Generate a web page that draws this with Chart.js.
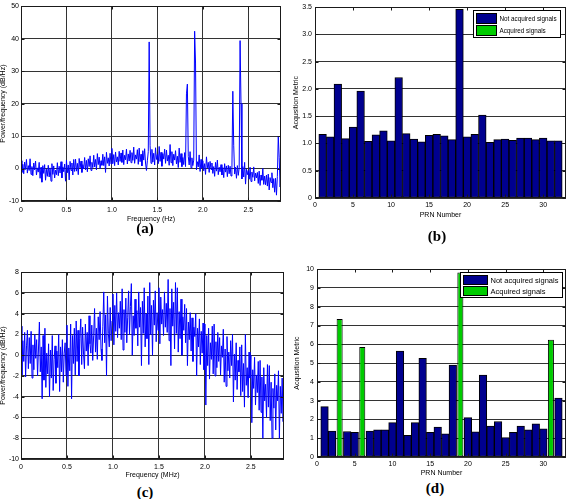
<!DOCTYPE html>
<html>
<head>
<meta charset="utf-8">
<script src="https://cdn.jsdelivr.net/npm/chart.js@4/dist/chart.umd.min.js"></script>
<style>
  html, body { margin: 0; padding: 0; background: #fff; }
  body { width: 567px; height: 499px; position: relative; overflow: hidden; }
  canvas { position: absolute; }
  .tag { position: absolute; font: bold 15px 'Liberation Serif', 'Times New Roman', serif; color: #000; transform: translate(-50%, -50%); }
</style>
</head>
<body>
<canvas id="chartA" width="284" height="225" style="left:0;top:0"></canvas>
<canvas id="chartB" width="277" height="222" style="left:290px;top:0"></canvas>
<canvas id="chartC" width="286" height="216" style="left:0;top:266px"></canvas>
<canvas id="chartD" width="277" height="217" style="left:290px;top:262px"></canvas>
<div class="tag" style="left:145px;top:228px">(a)</div>
<div class="tag" style="left:437px;top:236px">(b)</div>
<div class="tag" style="left:145px;top:492px">(c)</div>
<div class="tag" style="left:435px;top:488px">(d)</div>
<script>
// spectrum samples, one every 0.01 (Hz / MHz) from 0 to 2.86
const FREQ_STEP = 0.01;
const FREQ_MAX = 2.86;

const psdA = [
  2.4, -1.2, 1.3, -1.6, 2.0, -0.3, 2.8, -1.4, 0.9, -0.6,
  3.0, -1.8, 0.6, -2.2, 1.7, -0.4, 2.3, -2.0, 0.2, -1.1,
  1.9, -3.0, 0.4, -4.2, 0.9, -1.5, 1.2, -3.6, -0.2, -2.4,
  1.0, -2.6, 0.2, -3.9, 1.5, -1.8, 0.8, -2.9, -0.5, -1.9,
  1.8, -2.2, 0.7, -1.4, 2.1, -2.9, 0.5, -1.0, 1.4, -3.9,
  2.6, -1.3, 1.1, -3.5, 2.2, -0.6, 1.7, -2.0, 2.8, -0.9,
  2.9, -0.8, 1.6, -1.9, 3.1, 0.2, 2.3, -1.2, 1.2, -0.1,
  3.4, -0.4, 2.5, -1.0, 3.0, 0.6, 3.9, -0.6, 1.9, 0.3,
  4.1, 0.5, 2.8, -0.4, 4.6, 1.2, 3.5, 0.0, 2.4, 1.0,
  4.4, 0.9, 3.6, -1.2, 5.0, 1.6, 3.3, 0.8, 4.7, 1.4,
  6.2, 1.5, 4.3, 0.9, 5.1, 2.0, 3.6, 1.1, 5.3, 2.2,
  4.8, 1.9, 5.7, 1.2, 4.1, 2.7, 6.0, 1.4, 4.5, 2.3,
  5.6, 1.8, 4.9, 2.5, 6.6, 1.6, 4.2, 2.9, 5.8, 1.3,
  6.3, 2.1, 4.4, 0.8, 5.5, 2.6, 6.1, 1.7, -0.6, 2.4,
  5.2, 39.0, 7.0, 1.6, 5.9, 2.0, 4.7, 1.1, 6.4, 2.8,
  4.3, 1.5, 6.8, 2.2, 5.0, 0.7, 4.6, 2.9, 6.0, 1.6,
  5.7, 2.3, 4.1, 1.0, 7.4, 1.8, 5.2, 0.9, 4.4, 2.6,
  5.5, 1.4, 3.8, 0.3, 6.3, 1.9, 4.6, 0.6, 3.4, 1.2,
  4.9, 0.6, 23.0, 26.0, 3.7, 1.1, 5.2, 0.2, 3.3, 0.9,
  2.6, 42.3, 32.5, -0.4, 2.1, 0.5, 4.2, -0.9, 2.8, 0.1,
  2.4, -0.7, 1.5, -1.8, 3.6, 0.2, 1.9, -1.2, 2.2, -0.3,
  1.7, -1.5, 0.6, -2.4, 1.9, -0.8, 2.6, -1.9, 0.4, -1.0,
  1.2, -2.0, 0.3, -2.8, 1.5, -1.1, 0.8, -2.5, 1.0, -1.6,
  0.7, -2.3, 0.1, 23.8, 7.0, -1.7, 0.4, -3.0, 0.9, -2.1,
  0.2, 39.4, 20.0, -3.2, 0.6, -2.6, 1.9, -4.8, -0.2, -1.9,
  -0.6, -3.3, 0.4, -4.0, -1.1, -2.7, 0.5, -3.8, -1.4, -2.9,
  -1.2, -4.6, -0.8, -5.2, -2.0, -3.6, 0.0, -4.9, -2.3, -5.0,
  -2.0, -5.4, -1.7, -6.6, -2.8, -4.3, -1.3, -5.9, -3.1, -7.3,
  -3.0, -8.2, -2.4, 10.0, 3.5, -5.7, 1.8
];

const psdC = [
  2.8, -1.9, 1.4, -0.6, 2.2, -2.1, 0.9, 2.4, -1.3, 1.7,
  -0.8, 2.3, -2.2, 1.0, -1.4, 2.0, -0.3, 1.5, -2.0, 0.6,
  3.2, -1.6, 0.8, -4.2, 1.9, -2.4, 2.6, -3.1, 0.2, -1.8,
  1.1, -4.0, 0.5, -2.2, 1.9, -3.4, -0.4, 0.9, -2.7, 0.4,
  -1.2, 2.0, -3.5, 0.8, -1.6, 1.5, -2.6, 0.2, 1.2, -2.0,
  2.9, -3.0, 0.7, -1.5, 3.0, -4.2, 1.9, -0.8, 2.6, -1.9,
  3.3, -0.6, 2.4, -2.0, 1.6, 3.5, -0.9, 2.7, 0.1, -1.3,
  3.0, 0.4, 2.2, -1.0, 3.8, 1.1, 0.2, 2.9, -0.5, 1.9,
  4.5, 0.3, 2.6, -0.4, 3.7, 1.5, 4.2, 0.6, -0.5, 2.8,
  6.1, 1.2, 3.9, -2.0, 5.7, 2.1, 0.8, 4.6, 1.4, 3.3,
  5.9, 1.0, 4.8, 2.3, 6.0, 1.7, 4.1, 2.6, 5.2, 1.5,
  6.4, 0.5, 4.4, 2.2, 5.5, 1.2, 3.6, 6.2, 2.0, 4.7,
  6.9, 0.0, 3.8, 1.9, 5.4, 2.6, 4.3, 0.9, 6.1, 2.7,
  4.6, -1.0, 5.2, 2.1, 6.5, 0.8, 4.0, 1.6, 5.7, -0.9,
  7.0, 2.0, 4.8, 0.0, 5.3, 2.9, 6.2, 1.3, 4.1, 2.4,
  6.5, 1.1, 5.6, 3.0, 4.4, 1.9, 6.1, 2.7, 5.0, 2.2,
  7.3, 1.4, 4.5, -1.0, 6.4, 2.8, 5.1, 0.6, 7.0, 2.1,
  6.5, 0.3, 4.2, 1.6, 5.4, 0.0, 3.7, 2.4, 4.9, 1.2,
  4.5, -1.0, 3.2, 1.5, 4.1, 0.4, 3.6, -0.6, 2.7, 1.8,
  4.0, -2.0, 2.6, 0.8, 3.5, -0.9, 2.3, 0.2, 3.1, -1.4,
  3.0, -4.8, 1.9, -1.0, 2.6, -2.3, 1.2, -0.4, 2.8, -1.8,
  3.0, -2.0, 1.3, -1.2, 2.2, -0.6, 1.7, -1.9, 0.9, -0.2,
  2.5, -2.6, 0.6, -3.0, 1.8, -1.5, 0.3, -2.2, 1.4, -1.0,
  2.0, -4.5, 0.1, -2.4, 1.2, -3.3, -0.5, -1.6, 0.8, -3.9,
  1.0, -3.5, -0.8, -5.0, 2.0, -2.9, -1.2, -4.1, 0.3, -2.2,
  0.0, -6.5, -1.4, -3.2, -0.2, -4.8, -1.9, -3.6, -0.6, -5.3,
  -0.5, -5.5, -2.1, -8.0, -1.2, -4.4, -2.8, -6.0, -0.9, -5.0,
  -1.0, -6.3, -2.6, -8.0, -3.2, -5.1, -1.8, -7.2, -2.9, -4.4,
  -1.5, -8.0, -3.0, -5.6, -2.2, -6.4, 2.0
];

const prnNumbers = [1, 2, 3, 4, 5, 6, 7, 8, 9, 10, 11, 12, 13, 14, 15, 16,
  17, 18, 19, 20, 21, 22, 23, 24, 25, 26, 27, 28, 29, 30, 31, 32];

const metricB = [1.17, 1.12, 2.09, 1.09, 1.30, 1.96, 1.04, 1.16, 1.23, 1.05, 2.21, 1.18,
  1.08, 1.03, 1.15, 1.17, 1.14, 1.07, 3.46, 1.12, 1.17, 1.52, 1.02, 1.07,
  1.08, 1.06, 1.10, 1.10, 1.07, 1.10, 1.05, 1.05];
const acquiredPrnB = [];

const metricD = [2.68, 1.38, 7.35, 1.36, 1.32, 5.86, 1.38, 1.45, 1.45, 1.83, 5.64, 1.15,
  1.83, 5.26, 1.31, 1.59, 1.23, 4.89, 9.82, 2.10, 1.34, 4.36, 1.64, 1.89,
  1.04, 1.31, 1.64, 1.45, 1.76, 1.50, 6.24, 3.14];
const acquiredPrnD = [3, 6, 19, 31];

const NAVY = '#00008f';
const GREEN = '#00cc00';
const TRACE = '#0000ff';

Chart.defaults.font.family = "'Liberation Sans', Arial, sans-serif";
Chart.defaults.font.size = 7;
Chart.defaults.color = '#000';

const dotted = { color: '#333', borderDash: [1, 2], lineWidth: 1, drawTicks: false };

// matlab style box with inward tick marks
const matlabBox = {
  id: 'matlabBox',
  afterDraw(chart) {
    const { ctx, chartArea: a, scales } = chart;
    const L = Math.round(a.left) + 0.5, R = Math.round(a.right) - 0.5;
    const T = Math.round(a.top) + 0.5, B = Math.round(a.bottom) - 0.5;
    ctx.save();
    ctx.strokeStyle = '#1a1a1a';
    ctx.lineWidth = 1;
    ctx.beginPath();
    scales.x.ticks.forEach(t => {
      const px = Math.round(scales.x.getPixelForValue(t.value)) + 0.5;
      ctx.moveTo(px, B); ctx.lineTo(px, B - 3);
      ctx.moveTo(px, T); ctx.lineTo(px, T + 3);
    });
    scales.y.ticks.forEach(t => {
      const py = Math.round(scales.y.getPixelForValue(t.value)) + 0.5;
      ctx.moveTo(L, py); ctx.lineTo(L + 3, py);
      ctx.moveTo(R, py); ctx.lineTo(R - 3, py);
    });
    ctx.stroke();
    ctx.strokeRect(L, T, R - L, B - T);
    ctx.restore();
  }
};

const legendBox = {
  id: 'legendBox',
  afterDraw(chart, args, opts) {
    if (!opts.show) return;
    const { ctx, chartArea } = chart;
    const sets = chart.data.datasets;
    ctx.save();
    ctx.font = opts.fontSize + "px 'Liberation Sans', Arial, sans-serif";
    const textW = Math.max(...sets.map(d => ctx.measureText(d.label).width));
    const w = Math.round(3 + opts.swatchW + 3 + textW + 4);
    const h = Math.round(2 + sets.length * opts.rowH + 1);
    const x = Math.round(chartArea.right - opts.marginRight - w) + 0.5;
    const y = Math.round(chartArea.top + opts.marginTop) + 0.5;
    ctx.fillStyle = '#fff';
    ctx.fillRect(x, y, w, h);
    ctx.strokeStyle = '#000';
    ctx.lineWidth = 1;
    ctx.strokeRect(x, y, w, h);
    sets.forEach((d, i) => {
      const ry = y + 2 + i * opts.rowH;
      ctx.fillStyle = d.backgroundColor;
      ctx.fillRect(x + 3, ry + 1, opts.swatchW, opts.rowH - 2);
      ctx.strokeRect(x + 3, ry + 1, opts.swatchW, opts.rowH - 2);
      ctx.fillStyle = '#000';
      ctx.textBaseline = 'middle';
      ctx.fillText(d.label, x + 3 + opts.swatchW + 3, ry + opts.rowH / 2 + 0.5);
    });
    ctx.restore();
  }
};

function halfSteps(scale) {
  scale.ticks = scale.ticks.filter(t => Math.abs(t.value * 2 - Math.round(t.value * 2)) < 1e-6);
}

function makeSpectrum(id, values, unit, yMin, yMax, yStep, lay) {
  const points = values.map((y, i) => ({ x: +(i * FREQ_STEP).toFixed(2), y }));
  return new Chart(document.getElementById(id), {
    type: 'line',
    data: {
      datasets: [{
        data: points,
        borderColor: TRACE,
        borderWidth: 1,
        pointRadius: 0,
        tension: 0
      }]
    },
    options: {
      responsive: false,
      animation: false,
      events: [],
      layout: { padding: { top: lay.top, right: lay.right, left: 0, bottom: 0 } },
      plugins: { legend: { display: false }, tooltip: { enabled: false } },
      scales: {
        x: {
          type: 'linear',
          min: 0,
          max: FREQ_MAX,
          ticks: { stepSize: 0.5, padding: lay.xTickPad, maxRotation: 0 },
          afterBuildTicks: halfSteps,
          afterFit: s => { s.height = lay.xAxisH; },
          grid: dotted,
          border: { display: false },
          title: { display: true, text: 'Frequency (' + unit + ')', padding: { top: 0, bottom: lay.xTitlePad }, font: { size: 7, lineHeight: 1 } }
        },
        y: {
          min: yMin,
          max: yMax,
          ticks: { stepSize: yStep, padding: 2 },
          afterFit: s => { s.width = lay.yAxisW; },
          grid: dotted,
          border: { display: false },
          title: { display: true, text: 'Power/frequency (dB/Hz)', padding: { top: lay.yTitlePad, bottom: 0 }, font: { size: 7, lineHeight: 1 } }
        }
      }
    },
    plugins: [matlabBox]
  });
}

function makeBars(id, metric, acquiredPrn, yMax, yStep, lay, leg) {
  const notAcq = prnNumbers.map((p, i) => ({ x: p, y: acquiredPrn.includes(p) ? null : metric[i] }));
  const acq = prnNumbers.map((p, i) => ({ x: p, y: acquiredPrn.includes(p) ? metric[i] : null }));
  return new Chart(document.getElementById(id), {
    type: 'bar',
    data: {
      datasets: [
        { label: 'Not acquired signals', data: notAcq, backgroundColor: NAVY, borderColor: '#000', borderWidth: 1, borderSkipped: false, grouped: false, barPercentage: 1, categoryPercentage: 1 },
        { label: 'Acquired signals', data: acq, backgroundColor: GREEN, borderColor: '#000', borderWidth: 1, borderSkipped: false, grouped: false, barPercentage: 0.8, categoryPercentage: 1 }
      ]
    },
    options: {
      responsive: false,
      animation: false,
      events: [],
      layout: { padding: { top: lay.top, right: lay.right, left: 0, bottom: 0 } },
      plugins: { legend: { display: false }, tooltip: { enabled: false }, legendBox: leg },
      scales: {
        x: {
          type: 'linear',
          min: 0,
          max: 33,
          offset: false,
          ticks: { stepSize: 5, padding: lay.xTickPad, maxRotation: 0 },
          afterBuildTicks: s => { s.ticks = s.ticks.filter(t => t.value % 5 === 0); },
          afterFit: s => { s.height = lay.xAxisH; },
          grid: { display: false, offset: false, drawTicks: false },
          border: { display: false },
          title: { display: true, text: 'PRN Number', padding: { top: 0, bottom: lay.xTitlePad }, font: { size: 7, lineHeight: 1 } }
        },
        y: {
          min: 0,
          max: yMax,
          ticks: { stepSize: yStep, padding: 3 },
          afterFit: s => { s.width = lay.yAxisW; },
          grid: dotted,
          border: { display: false },
          title: { display: true, text: 'Acqusition Metric', padding: { top: lay.yTitlePad, bottom: 0 }, font: { size: 7, lineHeight: 1 } }
        }
      }
    },
    plugins: [matlabBox, legendBox]
  });
}

makeSpectrum('chartA', psdA, 'Hz', -10, 50, 10,
  { top: 5, right: 3, xAxisH: 24, xTickPad: 5, xTitlePad: 2, yAxisW: 21, yTitlePad: 0 });
makeSpectrum('chartC', psdC, 'MHz', -10, 8, 2,
  { top: 5, right: 2, xAxisH: 23, xTickPad: 4, xTitlePad: 3, yAxisW: 21, yTitlePad: 0 });
makeBars('chartB', metricB, acquiredPrnB, 3.5, 0.5,
  { top: 4, right: 1, xAxisH: 24, xTickPad: 3, xTitlePad: 3, yAxisW: 25, yTitlePad: 3 },
  { show: true, fontSize: 6.3, swatchW: 20, rowH: 12, marginRight: 6, marginTop: 3 });
makeBars('chartD', metricD, acquiredPrnD, 10, 1,
  { top: 6, right: 1, xAxisH: 22, xTickPad: 3, xTitlePad: 2, yAxisW: 27, yTitlePad: 4 },
  { show: true, fontSize: 7.5, swatchW: 24, rowH: 11, marginRight: 4, marginTop: 3 });
</script>
</body>
</html>
